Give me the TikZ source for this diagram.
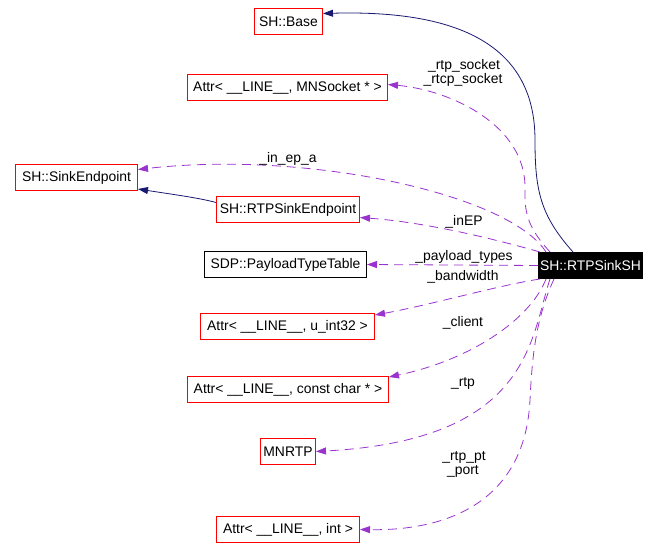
\documentclass[tikz,border=0pt]{standalone}
\usepackage{fontspec}
\setmainfont{Liberation Sans}
\usetikzlibrary{arrows.meta,calc}
\definecolor{edgepurple}{HTML}{9A32CD}
\definecolor{edgenavy}{HTML}{191970}
\definecolor{boxred}{HTML}{FF0000}
\begin{document}
\begin{tikzpicture}[x=1pt,y=-1pt,
  cls/.style={draw=boxred, line width=1pt, minimum height=26pt, inner sep=0pt,
    font=\fontsize{13.9}{16}\selectfont},
  plainbox/.style={cls, draw=black},
  mainbox/.style={cls, draw=black, fill=black, text=white},
  lbl/.style={font=\fontsize{13.9}{15}\selectfont, inner sep=0pt, align=center},
  usage/.style={draw=edgepurple, line width=0.8pt, dash pattern=on 9pt off 6pt,
    -{Triangle[length=10pt,width=7pt,fill=edgepurple]}},
  inherit/.style={draw=edgenavy, line width=0.8pt,
    -{Triangle[length=10pt,width=7pt,fill=edgenavy]}}
]
\useasboundingbox (0,0) rectangle (662,559);

% nodes
\node[cls, minimum width=68pt]  (base)  at (288.5,21.5)  {SH::Base};
\node[cls, minimum width=200pt] (mnsock) at (287.5,87.5) {Attr< \_\_LINE\_\_, MNSocket * >};
\node[cls, minimum width=122pt] (se)    at (76.5,177.5)  {SH::SinkEndpoint};
\node[cls, minimum width=143pt] (rse)   at (288,209.5)   {SH::RTPSinkEndpoint};
\node[plainbox, minimum width=162pt] (ptt) at (285.5,264.5) {SDP::PayloadTypeTable};
\node[mainbox, minimum width=104pt] (sh) at (590.5,265.5) {SH::RTPSinkSH};
\node[cls, minimum width=174pt] (u32)   at (287.5,326.5) {Attr< \_\_LINE\_\_, u\_int32 >};
\node[cls, minimum width=201pt] (cc)    at (288,389.5)   {Attr< \_\_LINE\_\_, const char * >};
\node[cls, minimum width=55pt]  (mnrtp) at (288,451.5)   {MNRTP};
\node[cls, minimum width=143pt] (ai)    at (288,529.5)   {Attr< \_\_LINE\_\_, int >};

% inheritance edges
\draw[inherit] ($(sh.north west)+(35,0)$) .. controls (540,215) and (535,190) .. (535,140)
   .. controls (535,40) and (450,10) .. ($(base.east)+(0,-8)$);
\draw[inherit] ($(rse.west)+(0,-7)$) .. controls (200,198) and (170,194) .. ($(se.south east)+(0,-2)$);

% usage edges
\draw[usage] ($(sh.north west)+(12,0)$) .. controls (530,230) and (524,215) .. (525,190)
   .. controls (527,125) and (450,90) .. ($(mnsock.east)+(0,-3)$);
\draw[usage] ($(sh.north west)+(8,0)$) .. controls (510,195) and (310,150) .. ($(se.east)+(0,-8)$);
\draw[usage] ($(sh.north west)+(2,0)$) .. controls (480,235) and (420,222) .. ($(rse.east)+(0,8)$);
\draw[usage] (sh.west) -- (ptt.east);
\draw[usage] ($(sh.south west)+(2,0)$) .. controls (500,285) and (430,305) .. ($(u32.north east)+(0,2)$);
\draw[usage] ($(sh.south west)+(8,0)$) .. controls (530,320) and (470,360) .. ($(cc.north east)+(0,1)$);
\draw[usage] ($(sh.south west)+(12,0)$) .. controls (530,340) and (530,440) .. (mnrtp.east);
\draw[usage] ($(sh.south west)+(16,0)$) .. controls (535,320) and (532,360) .. (530,400)
   .. controls (525,500) and (450,531) .. (ai.east);

% labels
\node[lbl] (l1) at (464,66)  {\_rtp\_socket};
\node[lbl] (l2) at (463,80)  {\_rtcp\_socket};
\node[lbl] (l3) at (288,159) {\_in\_ep\_a};
\node[lbl] (l4) at (464,222) {\_inEP};
\node[lbl] (l5) at (464,257) {\_payload\_types};
\node[lbl] (l6) at (463,277) {\_bandwidth};
\node[lbl] (l7) at (463,323) {\_client};
\node[lbl] (l8) at (463,383) {\_rtp};
\node[lbl] (l9) at (464,457) {\_rtp\_pt};
\node[lbl] (l10) at (463,471) {\_port};
\end{tikzpicture}
\end{document}
